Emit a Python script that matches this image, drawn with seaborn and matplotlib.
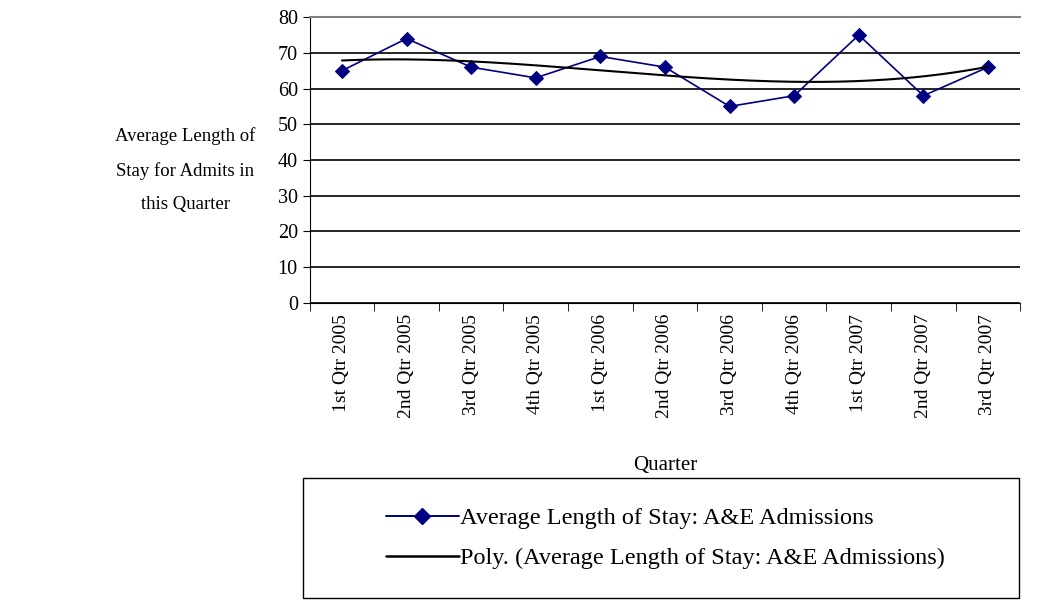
import matplotlib
matplotlib.use("Agg")
import matplotlib.pyplot as plt
import seaborn as sns
import numpy as np
import pandas as pd
from matplotlib.lines import Line2D

quarters = ["1st Qtr 2005","2nd Qtr 2005","3rd Qtr 2005","4th Qtr 2005","1st Qtr 2006",
            "2nd Qtr 2006","3rd Qtr 2006","4th Qtr 2006","1st Qtr 2007","2nd Qtr 2007","3rd Qtr 2007"]
values = [65, 74, 66, 63, 69, 66, 55, 58, 75, 58, 66]

sns.set_style("white")
plt.rcParams['font.family'] = ['Liberation Serif', 'DejaVu Serif']
plt.rcParams['text.color'] = 'black'
plt.rcParams['xtick.color'] = 'black'
plt.rcParams['ytick.color'] = 'black'
plt.rcParams['axes.labelcolor'] = 'black'

fig = plt.figure(figsize=(10.39, 6.13), dpi=100)
ax = fig.add_axes([0.298, 0.506, 0.684, 0.466])

x = np.arange(len(values))
df = pd.DataFrame({"x": x, "y": values})
sns.lineplot(data=df, x="x", y="y", ax=ax, color="#000080", marker="D", markersize=7,
             markeredgecolor="#000080", linewidth=1.2)
coef = np.polyfit(x, values, 3)
xs = np.linspace(0, len(values) - 1, 200)
sns.lineplot(x=xs, y=np.polyval(coef, xs), ax=ax, color="black", linewidth=1.5)

ax.set_xlim(-0.5, len(values) - 0.5)
ax.set_ylim(0, 80)
ax.set_yticks(range(0, 81, 10))
ax.tick_params(axis='y', labelsize=14.5, length=5, direction='out', left=True)
ax.set_xticks(x)
ax.set_xticklabels(quarters, rotation=90, fontsize=14)
ax.tick_params(axis='x', length=0, pad=8)
ax.set_xticks(np.arange(-0.5, len(values)), minor=True)
ax.tick_params(axis='x', which='minor', length=6, bottom=True, direction='out')
ax.grid(axis='y', color='black', linewidth=1.2)
for s in ['left', 'bottom']:
    ax.spines[s].set_color('black')
ax.spines['top'].set_color('#808080')
ax.spines['top'].set_linewidth(1.5)
ax.spines['right'].set_visible(False)
ax.set_xlabel("Quarter", fontsize=15, labelpad=27)
ax.set_ylabel("")
fig.text(0.1785, 0.723, "Average Length of\nStay for Admits in\nthis Quarter", ha='center', va='center',
         fontsize=13.5, linespacing=2.25)

handles = [Line2D([0], [0], color="#000080", marker="D", markersize=8, linewidth=1.4),
           Line2D([0], [0], color="black", linewidth=1.8)]
labels = ["Average Length of Stay: A&E Admissions",
          "Poly. (Average Length of Stay: A&E Admissions)"]
fig.patches.append(plt.Rectangle((0.292, 0.024), 0.689, 0.196, transform=fig.transFigure,
                                 fill=False, edgecolor='black', linewidth=1.0))
leg = fig.legend(handles, labels, loc='center left', bbox_to_anchor=(0.362, 0.122),
                 frameon=False, fontsize=17.5, handlelength=3.0, handletextpad=0.05,
                 labelspacing=0.75, borderaxespad=0)
fig.savefig("out.png", dpi=100)
